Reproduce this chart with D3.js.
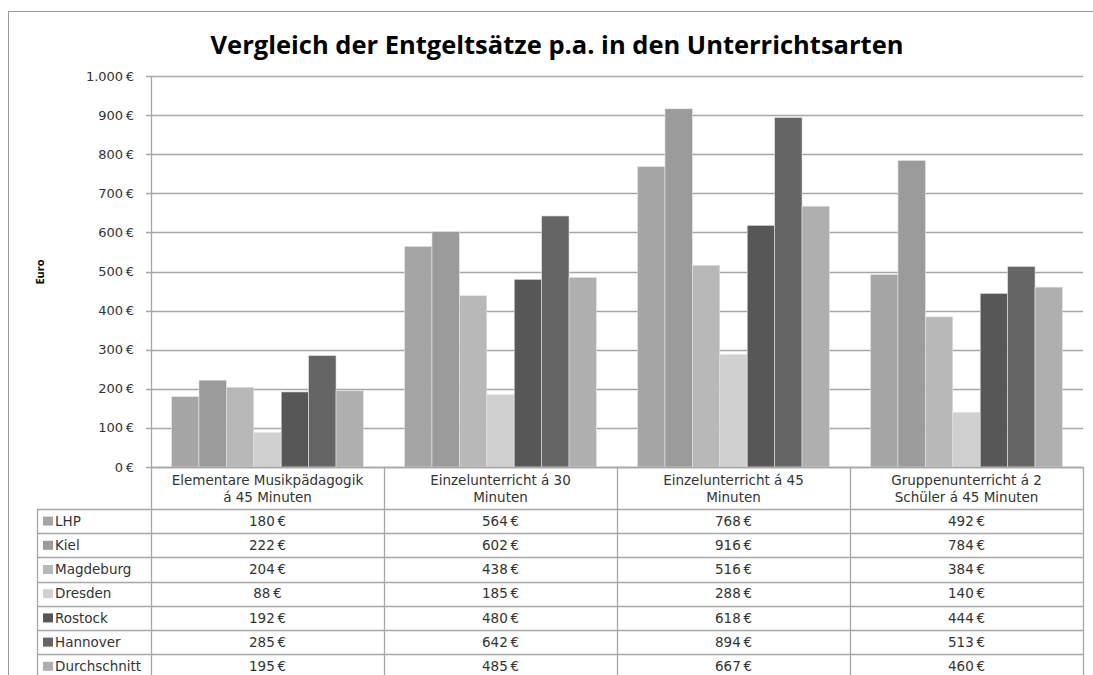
<!DOCTYPE html>
<html>
<head>
<meta charset="utf-8">
<script src="https://cdn.jsdelivr.net/npm/d3@7"></script>
<style>
  body { margin: 0; background: #fff; }
  svg { display: block; }
</style>
</head>
<body>
<div id="chart"></div>
<script>
const width = 1093;
const height = 675;

const title = "Vergleich der Entgeltsätze p.a. in den Unterrichtsarten";
const yLabel = "Euro";

const categories = [
    "Elementare Musikpädagogik\ná 45 Minuten",
    "Einzelunterricht á 30\nMinuten",
    "Einzelunterricht á 45\nMinuten",
    "Gruppenunterricht á 2\nSchüler á 45 Minuten"
];
const series = ["LHP", "Kiel", "Magdeburg", "Dresden", "Rostock", "Hannover", "Durchschnitt"];
const values = [
    [180, 564, 768, 492],   // LHP
    [222, 602, 916, 784],   // Kiel
    [204, 438, 516, 384],   // Magdeburg
    [88, 185, 288, 140],    // Dresden
    [192, 480, 618, 444],   // Rostock
    [285, 642, 894, 513],   // Hannover
    [195, 485, 667, 460]    // Durchschnitt
];
const yTicks = [0, 100, 200, 300, 400, 500, 600, 700, 800, 900, 1000];
const colors = ["#a5a5a5", "#9b9b9b", "#b8b8b8", "#d0d0d0", "#575757", "#656565", "#afafaf"];

const plot = {left: 151, right: 1083, top: 76, bottom: 467};
const tableLeft = 37;
const headerH = 42;
const rowH = 24.2;
const bodyFont = "'DejaVu Sans', Verdana, sans-serif";

const de = d3.formatLocale({decimal: ",", thousands: ".", grouping: [3], currency: ["", "\u2009€"]});
const euro = de.format("$,.0f");

const svg = d3.select("#chart")
    .append("svg")
    .attr("width", width)
    .attr("height", height)
    .style("font-family", bodyFont);

// outer chart frame
svg.append("rect")
    .attr("x", 8.5).attr("y", 11.5)
    .attr("width", 1200).attr("height", 800)
    .attr("fill", "none")
    .attr("stroke", "#9a9a9a");

svg.append("text")
    .attr("x", 557).attr("y", 54)
    .attr("text-anchor", "middle")
    .style("font-family", "'Open Sans', sans-serif")
    .style("font-size", "25.5px")
    .style("font-weight", "bold")
    .attr("fill", "#000")
    .text(title);

const x0 = d3.scaleBand()
    .domain(categories)
    .range([plot.left, plot.right]);

const x1 = d3.scaleBand()
    .domain(series)
    .range([0, x0.bandwidth()])
    .paddingOuter(0.75);

const y = d3.scaleLinear()
    .domain([0, 1000])
    .range([plot.bottom, plot.top]);

// gridlines
svg.append("g")
    .selectAll("line")
    .data(yTicks)
    .join("line")
    .attr("x1", plot.left - 5)
    .attr("x2", plot.right)
    .attr("y1", d => Math.round(y(d)) + 0.5)
    .attr("y2", d => Math.round(y(d)) + 0.5)
    .attr("stroke", "#a6a6a6")
    .attr("stroke-width", 1.3);

// y axis labels
svg.append("g")
    .selectAll("text")
    .data(yTicks)
    .join("text")
    .attr("x", plot.left - 17)
    .attr("y", d => y(d))
    .attr("dy", "0.35em")
    .attr("text-anchor", "end")
    .style("font-size", "13px")
    .attr("fill", "#333")
    .text(d => euro(d));

svg.append("text")
    .attr("transform", `translate(44,272) rotate(-90)`)
    .attr("text-anchor", "middle")
    .style("font-family", "'Open Sans', sans-serif")
    .style("font-size", "11px")
    .style("font-weight", "bold")
    .text(yLabel);

// bars
const groups = svg.append("g")
    .selectAll("g")
    .data(categories)
    .join("g")
    .attr("transform", d => `translate(${x0(d)},0)`);

groups.selectAll("rect")
    .data((c, ci) => series.map((s, si) => ({s, si, v: values[si][ci]})))
    .join("rect")
    .attr("x", d => x1(d.s))
    .attr("y", d => y(d.v))
    .attr("width", x1.bandwidth())
    .attr("height", d => y(0) - y(d.v))
    .attr("fill", d => colors[d.si])
    .attr("stroke", "#e4e4e4")
    .attr("stroke-width", 0.6);

// vertical axis line
svg.append("line")
    .attr("x1", plot.left + 0.5).attr("x2", plot.left + 0.5)
    .attr("y1", plot.top).attr("y2", plot.bottom + headerH)
    .attr("stroke", "#a6a6a6")
    .attr("stroke-width", 1.3);

// data table
const table = svg.append("g");
const rowsTop = plot.bottom + headerH;
const tableBottom = rowsTop + rowH * series.length;
const lineColor = "#a6a6a6";

table.append("line")
    .attr("x1", plot.left).attr("x2", plot.right)
    .attr("y1", plot.bottom + 0.5).attr("y2", plot.bottom + 0.5)
    .attr("stroke", lineColor).attr("stroke-width", 1.3);

table.selectAll(".hline")
    .data(d3.range(series.length + 1))
    .join("line")
    .attr("class", "hline")
    .attr("x1", tableLeft).attr("x2", plot.right)
    .attr("y1", i => Math.round(rowsTop + i * rowH) + 0.5)
    .attr("y2", i => Math.round(rowsTop + i * rowH) + 0.5)
    .attr("stroke", lineColor).attr("stroke-width", 1.3);

table.selectAll(".vline")
    .data(categories)
    .join("line")
    .attr("class", "vline")
    .attr("x1", d => Math.round(x0(d) + x0.bandwidth()) + 0.5)
    .attr("x2", d => Math.round(x0(d) + x0.bandwidth()) + 0.5)
    .attr("y1", plot.bottom).attr("y2", tableBottom)
    .attr("stroke", lineColor).attr("stroke-width", 1.3);

table.append("line")
    .attr("x1", tableLeft + 0.5).attr("x2", tableLeft + 0.5)
    .attr("y1", rowsTop).attr("y2", tableBottom)
    .attr("stroke", lineColor).attr("stroke-width", 1.3);

table.append("line")
    .attr("x1", plot.left + 0.5).attr("x2", plot.left + 0.5)
    .attr("y1", rowsTop).attr("y2", tableBottom)
    .attr("stroke", lineColor).attr("stroke-width", 1.3);

// header labels
table.selectAll(".head")
    .data(categories)
    .join("text")
    .attr("class", "head")
    .attr("text-anchor", "middle")
    .style("font-size", "13.5px")
    .attr("fill", "#333")
    .selectAll("tspan")
    .data(d => d.split("\n").map(t => ({t, c: d})))
    .join("tspan")
    .attr("x", d => x0(d.c) + x0.bandwidth() / 2)
    .attr("y", (d, i) => plot.bottom + 18 + i * 17)
    .text(d => d.t);

// legend column
const legendRows = table.selectAll(".lrow")
    .data(series)
    .join("g")
    .attr("class", "lrow")
    .attr("transform", (d, i) => `translate(${tableLeft},${rowsTop + i * rowH})`);

legendRows.append("rect")
    .attr("x", 6).attr("y", rowH / 2 - 4.5)
    .attr("width", 10).attr("height", 9)
    .attr("fill", (d, i) => colors[i]);

legendRows.append("text")
    .attr("x", 18).attr("y", rowH / 2)
    .attr("dy", "0.35em")
    .style("font-size", "13.5px")
    .attr("fill", "#333")
    .text(d => d);

// value cells
series.forEach((s, si) => {
    table.append("g")
        .selectAll("text")
        .data(categories)
        .join("text")
        .attr("x", d => x0(d) + x0.bandwidth() / 2)
        .attr("y", rowsTop + si * rowH + rowH / 2)
        .attr("dy", "0.35em")
        .attr("text-anchor", "middle")
        .style("font-size", "13.5px")
        .attr("fill", "#333")
        .text((d, ci) => euro(values[si][ci]));
});
</script>
</body>
</html>
